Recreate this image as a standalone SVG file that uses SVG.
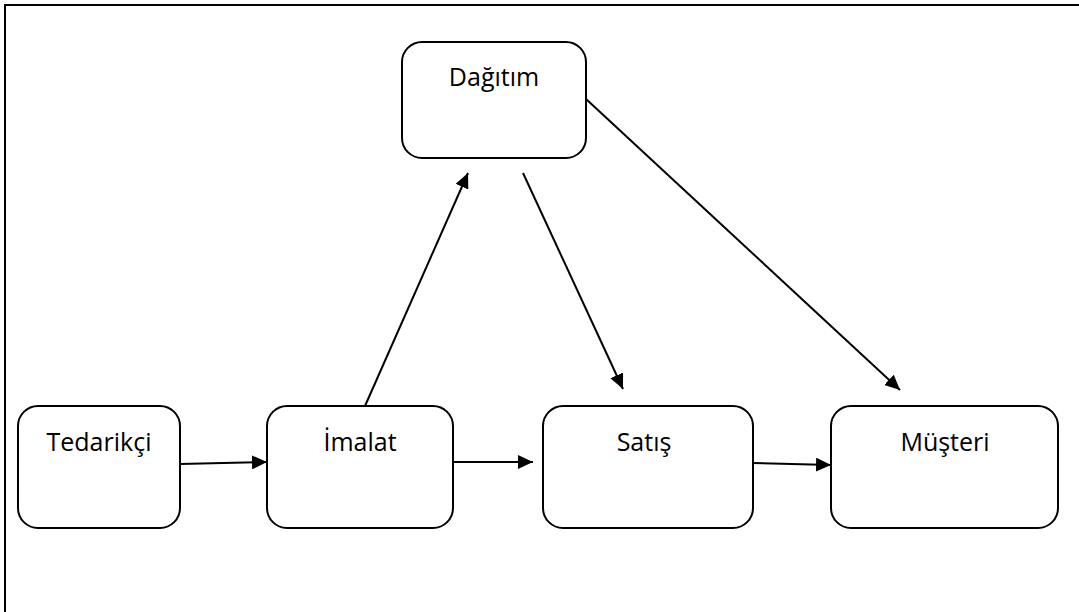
<svg xmlns="http://www.w3.org/2000/svg" width="1079" height="612" viewBox="0 0 1079 612">
<style>
.node rect{fill:#fff;stroke:#000;stroke-width:2}
.node text{font-family:"Open Sans","Noto Sans","Liberation Sans",sans-serif;font-size:25px;fill:#000;text-anchor:middle}
.conn line{stroke:#000;stroke-width:2;marker-end:url(#ah)}
</style>
<defs>
<marker id="ah" markerWidth="7.5" markerHeight="7" refX="7.5" refY="3.5" orient="auto" markerUnits="strokeWidth">
<path d="M0,0 L7.5,3.5 L0,7 Z" fill="#000"/>
</marker>
</defs>
<rect width="1079" height="612" fill="#fff"/>
<path d="M5,612 V5 H1079" fill="none" stroke="#000" stroke-width="2"/>
<g id="dagitim" class="node"><rect x="402" y="42" width="184" height="116" rx="20"/><text x="494" y="86">Dağıtım</text></g>
<g id="tedarikci" class="node"><rect x="18" y="406" width="162" height="122" rx="20"/><text x="99" y="451">Tedarikçi</text></g>
<g id="imalat" class="node"><rect x="267" y="406" width="186" height="122" rx="20"/><text x="360" y="451">İmalat</text></g>
<g id="satis" class="node"><rect x="543" y="406" width="210" height="122" rx="20"/><text x="644" y="451">Satış</text></g>
<g id="musteri" class="node"><rect x="831" y="406" width="227" height="122" rx="20"/><text x="945" y="451">Müşteri</text></g>
<g id="connectors" class="conn">
<line x1="180" y1="464" x2="267" y2="462"/>
<line x1="453" y1="462" x2="533" y2="462"/>
<line x1="753" y1="463" x2="831" y2="465"/>
<line x1="365" y1="406" x2="468" y2="173"/>
<line x1="523" y1="173" x2="623" y2="389"/>
<line x1="586" y1="99" x2="900" y2="390"/>
</g>
</svg>
